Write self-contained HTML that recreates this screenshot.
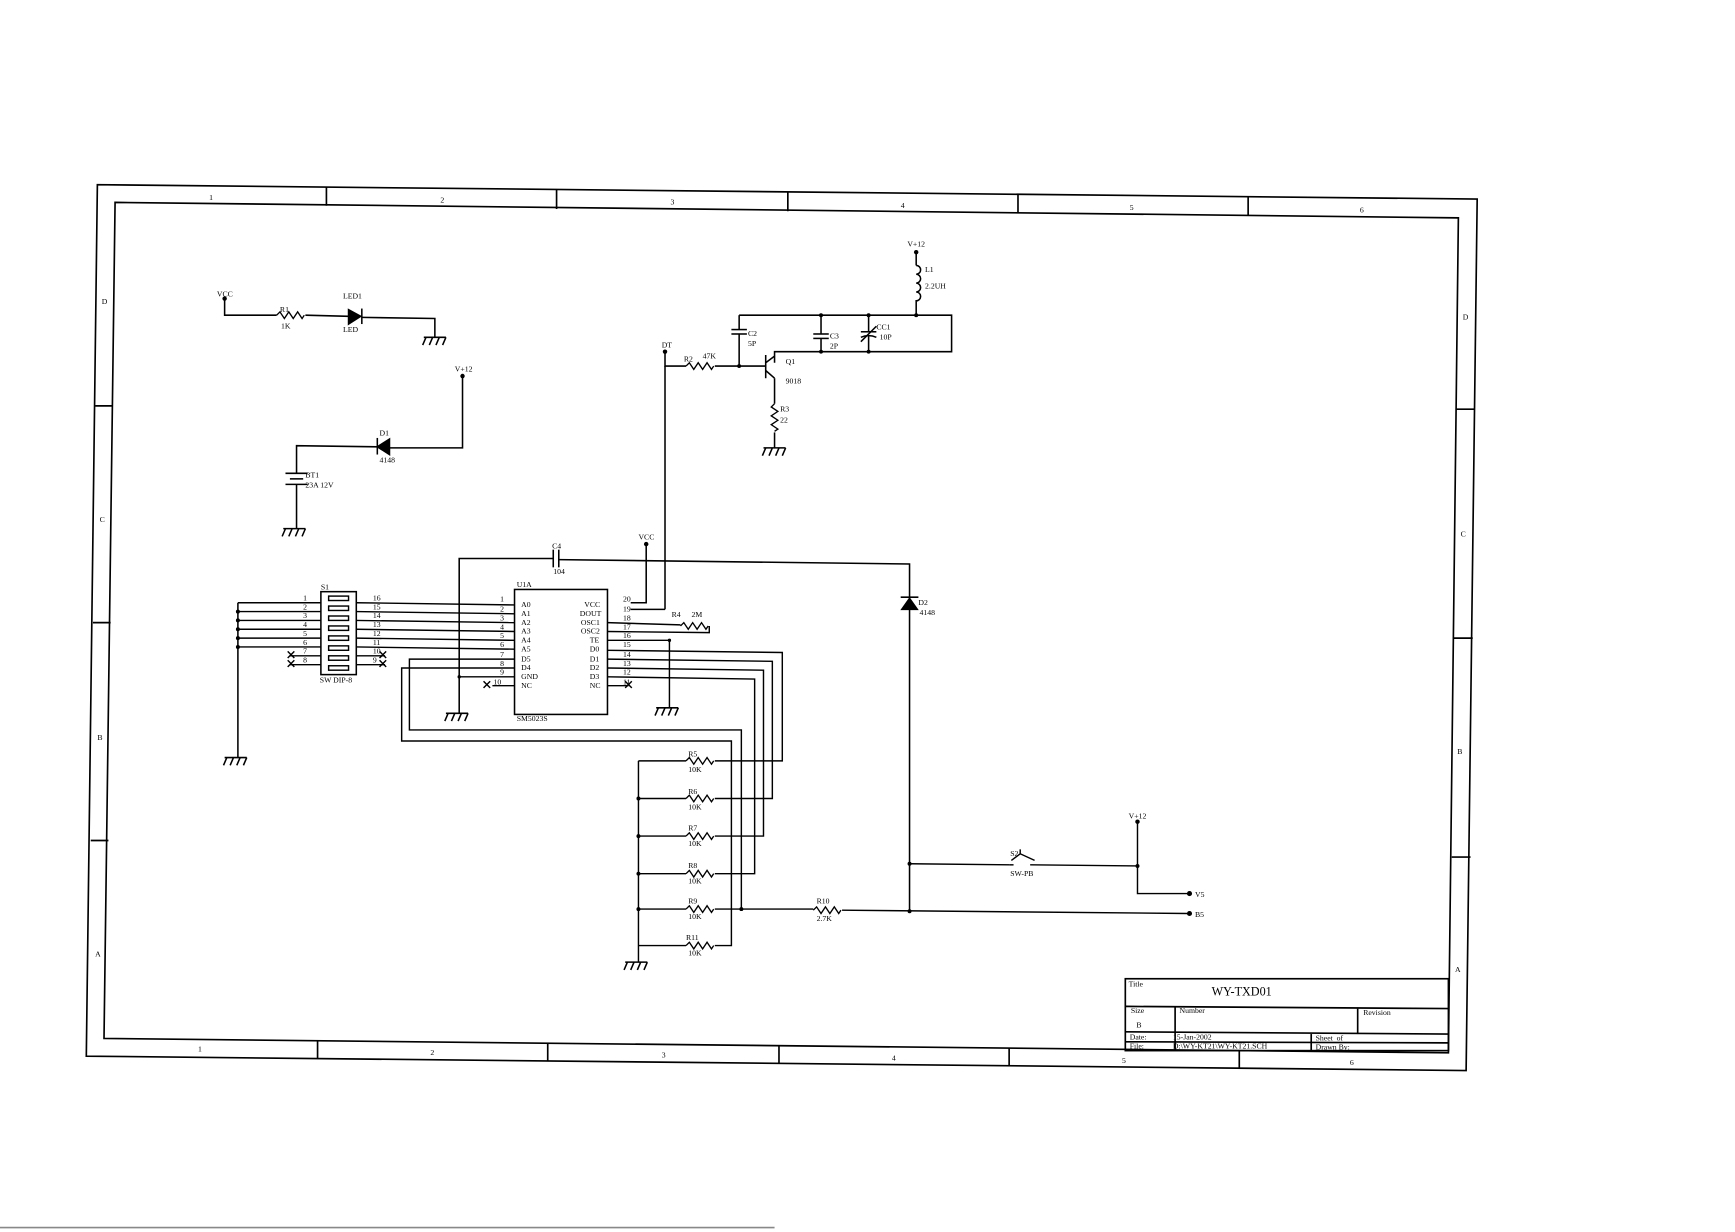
<!DOCTYPE html>
<html><head><meta charset="utf-8"><style>
html,body{margin:0;padding:0;background:#fff;}
svg{display:block;}
text{font-family:"Liberation Serif",serif;font-size:7px;fill:#000;}
</style></head><body>
<svg width="1735" height="1232" viewBox="0 0 1568 1114" preserveAspectRatio="none" xmlns="http://www.w3.org/2000/svg">
<defs>
<g id="gnd" stroke="#000" stroke-width="1.4" fill="none"><line x1="-10" y1="0" x2="10" y2="0"/><line x1="-8" y1="0" x2="-11" y2="7"/><line x1="-2" y1="0" x2="-5" y2="7"/><line x1="4" y1="0" x2="1" y2="7"/><line x1="10" y1="0" x2="7" y2="7"/></g>
<path id="res" d="M0,0 l3,-3 l4,6 l4,-6 l4,6 l4,-6 l4,6 l2,-3" stroke="#000" stroke-width="1.2" fill="none"/>
<path id="resv" d="M0,0 l-3,3 l6,4 l-6,4 l6,4 l-6,4 l6,4 l-3,2" stroke="#000" stroke-width="1.2" fill="none"/>
</defs>
<g stroke="#000" stroke-width="1.5" fill="none">
<polygon points="88,167 1335,180 1325,968 78,955"/>
<polygon points="104,183 1318,197 1309,952 94,939"/>
<line x1="295" y1="169" x2="295" y2="186"/><line x1="503" y1="171" x2="503" y2="189"/><line x1="712" y1="174" x2="712" y2="191"/><line x1="920" y1="176" x2="920" y2="193"/><line x1="1128" y1="178" x2="1128" y2="195"/>
<line x1="287" y1="941" x2="287" y2="957"/><line x1="495" y1="944" x2="495" y2="959"/><line x1="704" y1="946" x2="704" y2="962"/><line x1="912" y1="948" x2="912" y2="964"/><line x1="1120" y1="950" x2="1120" y2="966"/>
<line x1="86" y1="367" x2="102" y2="367"/><line x1="84" y1="563" x2="100" y2="563"/><line x1="82" y1="760" x2="98" y2="760"/>
<line x1="1316" y1="370" x2="1333" y2="370"/><line x1="1314" y1="577" x2="1331" y2="577"/><line x1="1312" y1="775" x2="1329" y2="775"/>
<rect x="1017" y="885" width="292" height="65"/>
<line x1="1017" y1="910" x2="1309" y2="912"/><line x1="1017" y1="933" x2="1309" y2="935"/><line x1="1017" y1="942" x2="1309" y2="943"/>
<line x1="1062" y1="910" x2="1062" y2="950"/><line x1="1227" y1="912" x2="1227" y2="935"/><line x1="1185" y1="935" x2="1185" y2="950"/>
</g>
<g>
<text x="189" y="181">1</text><text x="398" y="183">2</text><text x="606" y="185">3</text><text x="814" y="188">4</text><text x="1021" y="190">5</text><text x="1229" y="192">6</text>
<text x="179" y="951">1</text><text x="389" y="954">2</text><text x="598" y="956">3</text><text x="806" y="959">4</text><text x="1014" y="961">5</text><text x="1220" y="963">6</text>
<text x="92" y="275">D</text><text x="90" y="472">C</text><text x="88" y="669">B</text><text x="86" y="865">A</text>
<text x="1322" y="289">D</text><text x="1320" y="485">C</text><text x="1317" y="682">B</text><text x="1315" y="879">A</text>
<text x="1020" y="892">Title</text><text x="1095" y="900" style="font-size:11px">WY-TXD01</text>
<text x="1022" y="916">Size</text><text x="1066" y="916">Number</text><text x="1232" y="918">Revision</text><text x="1027" y="929">B</text>
<text x="1021" y="940">Date:</text><text x="1060" y="940">15-Jan-2002</text><text x="1189" y="941">Sheet&#160;&#160;of</text>
<text x="1021" y="948">File:</text><text x="1060" y="948">D:\WY-KT21\WY-KT21.SCH</text><text x="1189" y="949">Drawn By:</text>
</g>
<g stroke="#000" stroke-width="1.4" fill="none">
<polyline points="203,270 203,285 250,285"/><use href="#res" x="250" y="285"/>
<line x1="276" y1="285" x2="315" y2="286"/>
<polygon points="315,280 315,293 326,286" fill="#000"/><line x1="327" y1="279" x2="327" y2="293"/>
<polyline points="327,287 393,288 393,305"/><use href="#gnd" x="393" y="305"/>
<polyline points="418,340 418,405 352,405"/>
<polygon points="352,397 352,411 341,404" fill="#000"/><line x1="341" y1="396" x2="341" y2="411"/>
<polyline points="341,404 268,403 268,428"/>
<line x1="258" y1="428" x2="278" y2="428"/><line x1="262" y1="433" x2="274" y2="433"/><line x1="258" y1="438" x2="278" y2="438"/>
<polyline points="268,438 268,478"/><use href="#gnd" x="266" y="478"/>
<line x1="828" y1="228" x2="828" y2="240"/>
<path d="M828,240 a4,4 0 0 1 0,8 a4,4 0 0 1 0,8 a4,4 0 0 1 0,8 a4,4 0 0 1 0,8 L828,285"/>
<polyline points="668,285 860,285 860,318 700,318 700,328"/>
<line x1="668" y1="285" x2="668" y2="298"/><line x1="661" y1="298" x2="675" y2="298"/><line x1="661" y1="302" x2="675" y2="302"/><line x1="668" y1="302" x2="668" y2="331"/>
<line x1="742" y1="285" x2="742" y2="302"/><line x1="735" y1="302" x2="749" y2="302"/><line x1="735" y1="306" x2="749" y2="306"/><line x1="742" y1="306" x2="742" y2="318"/>
<line x1="785" y1="285" x2="785" y2="300"/><line x1="778" y1="300" x2="792" y2="300"/><path d="M778,305 q7,-3 14,0"/><line x1="785" y1="304" x2="785" y2="318"/><line x1="778" y1="309" x2="792" y2="295"/>
<polyline points="601,318 601,331 620,331"/><use href="#res" x="620" y="331"/>
<line x1="646" y1="331" x2="692" y2="331"/><line x1="692" y1="321" x2="692" y2="342"/>
<line x1="692" y1="328" x2="700" y2="322"/><line x1="692" y1="335" x2="700" y2="342"/>
<polyline points="700,342 700,365"/><use href="#resv" x="700" y="365"/><polyline points="700,391 700,405"/><use href="#gnd" x="700" y="405"/>
<line x1="601" y1="331" x2="601" y2="551"/><line x1="570" y1="551" x2="601" y2="551"/>
<polyline points="415,645 415,505 500,505"/><line x1="500" y1="497" x2="500" y2="513"/><line x1="505" y1="497" x2="505" y2="513"/>
<polyline points="505,506 822,510 822,540"/>
<polygon points="815,551 829,551 822,541" fill="#000"/><line x1="814" y1="540" x2="830" y2="540"/>
<line x1="822" y1="551" x2="822" y2="824"/>
<polyline points="584,492 584,545 570,545"/>
<use href="#gnd" x="413" y="645"/>
<rect x="465" y="533" width="84" height="113"/>
<rect x="290" y="535" width="32" height="75"/>
<line x1="215" y1="545" x2="215" y2="685"/><use href="#gnd" x="213" y="685"/>
</g>
<g stroke="#000" stroke-width="1.3" fill="none">
<line x1="215" y1="545" x2="290" y2="545"/><line x1="215" y1="553" x2="290" y2="553"/><line x1="215" y1="561" x2="290" y2="561"/><line x1="215" y1="569" x2="290" y2="569"/><line x1="215" y1="577" x2="290" y2="577"/><line x1="215" y1="585" x2="290" y2="585"/>
<line x1="262" y1="593" x2="290" y2="593"/><line x1="262" y1="601" x2="290" y2="601"/>
<line x1="322" y1="545" x2="465" y2="547"/><line x1="322" y1="553" x2="465" y2="555"/><line x1="322" y1="561" x2="465" y2="563"/><line x1="322" y1="569" x2="465" y2="571"/><line x1="322" y1="577" x2="465" y2="579"/><line x1="322" y1="585" x2="465" y2="587"/>
<line x1="322" y1="593" x2="348" y2="593"/><line x1="322" y1="601" x2="348" y2="601"/>
<rect x="297" y="539" width="18" height="4"/><rect x="297" y="548" width="18" height="4"/><rect x="297" y="557" width="18" height="4"/><rect x="297" y="566" width="18" height="4"/><rect x="297" y="575" width="18" height="4"/><rect x="297" y="584" width="18" height="4"/><rect x="297" y="593" width="18" height="4"/><rect x="297" y="602" width="18" height="4"/>
<path d="M260,589 l6,6 M266,589 l-6,6 M260,597 l6,6 M266,597 l-6,6 M343,589 l6,6 M349,589 l-6,6 M343,597 l6,6 M349,597 l-6,6 M437,616 l6,6 M443,616 l-6,6 M565,616 l6,6 M571,616 l-6,6"/>
<line x1="445" y1="620" x2="465" y2="620"/><line x1="549" y1="620" x2="568" y2="620"/>
<line x1="415" y1="612" x2="465" y2="612"/>
<line x1="549" y1="563" x2="615" y2="565"/><use href="#res" x="615" y="566"/><polyline points="641,566 641,572 549,571"/>
<polyline points="549,579 605,579 605,640"/><use href="#gnd" x="603" y="640"/>
<polyline points="549,588 707,590 707,688 646,688"/>
<polyline points="549,596 698,598 698,722 646,722"/>
<polyline points="549,604 690,606 690,756 646,756"/>
<polyline points="549,612 682,614 682,790 646,790"/>
<polyline points="465,596 370,596 370,660 670,660 670,822 646,822"/>
<polyline points="465,604 363,604 363,670 661,670 661,855 646,855"/>
<polyline points="577,688 577,870"/><use href="#gnd" x="575" y="870"/>
<line x1="577" y1="688" x2="620" y2="688"/><use href="#res" x="620" y="688"/>
<line x1="577" y1="722" x2="620" y2="722"/><use href="#res" x="620" y="722"/>
<line x1="577" y1="756" x2="620" y2="756"/><use href="#res" x="620" y="756"/>
<line x1="577" y1="790" x2="620" y2="790"/><use href="#res" x="620" y="790"/>
<line x1="577" y1="822" x2="620" y2="822"/><use href="#res" x="620" y="822"/>
<line x1="577" y1="855" x2="620" y2="855"/><use href="#res" x="620" y="855"/>
<line x1="670" y1="822" x2="735" y2="822"/><use href="#res" x="735" y="823"/>
<line x1="761" y1="823" x2="1073" y2="826"/>
<line x1="822" y1="781" x2="912" y2="782"/><line x1="912" y1="782" x2="916" y2="782"/><line x1="931" y1="782" x2="1028" y2="783"/>
<polyline points="914,778 922,772 935,778"/><line x1="922" y1="772" x2="922" y2="768"/>
<polyline points="1028,743 1028,808 1073,808"/>
</g>
<g fill="#000">
<circle cx="203" cy="270" r="2"/><circle cx="418" cy="340" r="2"/><circle cx="828" cy="228" r="2"/><circle cx="601" cy="318" r="2"/><circle cx="584" cy="492" r="2"/><circle cx="1028" cy="743" r="2"/>
<circle cx="1075" cy="808" r="2.3"/><circle cx="1075" cy="826" r="2.3"/>
<circle cx="828" cy="285" r="1.8"/><circle cx="742" cy="285" r="1.8"/><circle cx="785" cy="285" r="1.8"/><circle cx="668" cy="331" r="1.8"/><circle cx="742" cy="318" r="1.8"/><circle cx="785" cy="318" r="1.8"/>
<circle cx="215" cy="553" r="1.8"/><circle cx="215" cy="561" r="1.8"/><circle cx="215" cy="569" r="1.8"/><circle cx="215" cy="577" r="1.8"/><circle cx="215" cy="585" r="1.8"/>
<circle cx="577" cy="722" r="1.8"/><circle cx="577" cy="756" r="1.8"/><circle cx="577" cy="790" r="1.8"/><circle cx="577" cy="822" r="1.8"/>
<circle cx="670" cy="822" r="1.8"/><circle cx="822" cy="781" r="1.8"/><circle cx="822" cy="824" r="1.8"/><circle cx="1028" cy="783" r="1.8"/>
<circle cx="415" cy="612" r="1.5"/><circle cx="605" cy="579" r="1.5"/>
</g>
<g>
<text x="196" y="268">VCC</text><text x="253" y="282">R1</text><text x="254" y="297">1K</text><text x="310" y="270">LED1</text><text x="310" y="300">LED</text>
<text x="411" y="336">V+12</text><text x="343" y="394">D1</text><text x="343" y="418">4148</text><text x="276" y="432">BT1</text><text x="276" y="441">23A 12V</text>
<text x="820" y="223">V+12</text><text x="836" y="246">L1</text><text x="836" y="261">2.2UH</text>
<text x="676" y="304">C2</text><text x="676" y="313">5P</text><text x="750" y="306">C3</text><text x="750" y="315">2P</text><text x="792" y="298">CC1</text><text x="795" y="307">10P</text>
<text x="598" y="314">DT</text><text x="618" y="327">R2</text><text x="635" y="324">47K</text><text x="710" y="329">Q1</text><text x="710" y="347">9018</text><text x="705" y="372">R3</text><text x="705" y="382">22</text>
<text x="499" y="496">C4</text><text x="500" y="519">104</text><text x="577" y="488">VCC</text><text x="830" y="547">D2</text><text x="831" y="556">4148</text>
<text x="467" y="531">U1A</text><text x="467" y="652">SM5023S</text>
<text x="471" y="549">A0</text><text x="471" y="557">A1</text><text x="471" y="565">A2</text><text x="471" y="573">A3</text><text x="471" y="581">A4</text><text x="471" y="589">A5</text><text x="471" y="598">D5</text><text x="471" y="606">D4</text><text x="471" y="614">GND</text><text x="471" y="622">NC</text>
<text x="528" y="549">VCC</text><text x="524" y="557">DOUT</text><text x="525" y="565">OSC1</text><text x="525" y="573">OSC2</text><text x="533" y="581">TE</text><text x="533" y="589">D0</text><text x="533" y="598">D1</text><text x="533" y="606">D2</text><text x="533" y="614">D3</text><text x="533" y="622">NC</text>
<text x="452" y="544">1</text><text x="452" y="553">2</text><text x="452" y="561">3</text><text x="452" y="569">4</text><text x="452" y="577">5</text><text x="452" y="585">6</text><text x="452" y="594">7</text><text x="452" y="602">8</text><text x="452" y="610">9</text><text x="446" y="619">10</text>
<text x="563" y="544">20</text><text x="563" y="553">19</text><text x="563" y="561">18</text><text x="563" y="569">17</text><text x="563" y="577">16</text><text x="563" y="585">15</text><text x="563" y="594">14</text><text x="563" y="602">13</text><text x="563" y="610">12</text><text x="563" y="619">11</text>
<text x="607" y="558">R4</text><text x="625" y="558">2M</text>
<text x="290" y="533">S1</text><text x="289" y="617">SW DIP-8</text>
<text x="274" y="543">1</text><text x="274" y="551">2</text><text x="274" y="559">3</text><text x="274" y="567">4</text><text x="274" y="575">5</text><text x="274" y="583">6</text><text x="274" y="591">7</text><text x="274" y="599">8</text>
<text x="337" y="543">16</text><text x="337" y="551">15</text><text x="337" y="559">14</text><text x="337" y="567">13</text><text x="337" y="575">12</text><text x="337" y="583">11</text><text x="337" y="591">10</text><text x="337" y="599">9</text>
<text x="622" y="684">R5</text><text x="622" y="698">10K</text><text x="622" y="718">R6</text><text x="622" y="732">10K</text><text x="622" y="751">R7</text><text x="622" y="765">10K</text><text x="622" y="785">R8</text><text x="622" y="799">10K</text><text x="622" y="817">R9</text><text x="622" y="831">10K</text><text x="620" y="850">R11</text><text x="622" y="864">10K</text>
<text x="738" y="817">R10</text><text x="738" y="833">2.7K</text><text x="913" y="774">S2</text><text x="913" y="792">SW-PB</text>
<text x="1020" y="740">V+12</text><text x="1080" y="811">V5</text><text x="1080" y="829">B5</text>
</g>
<line x1="0" y1="1110" x2="700" y2="1110" stroke="#888" stroke-width="1.5"/>
</svg>
</body></html>
